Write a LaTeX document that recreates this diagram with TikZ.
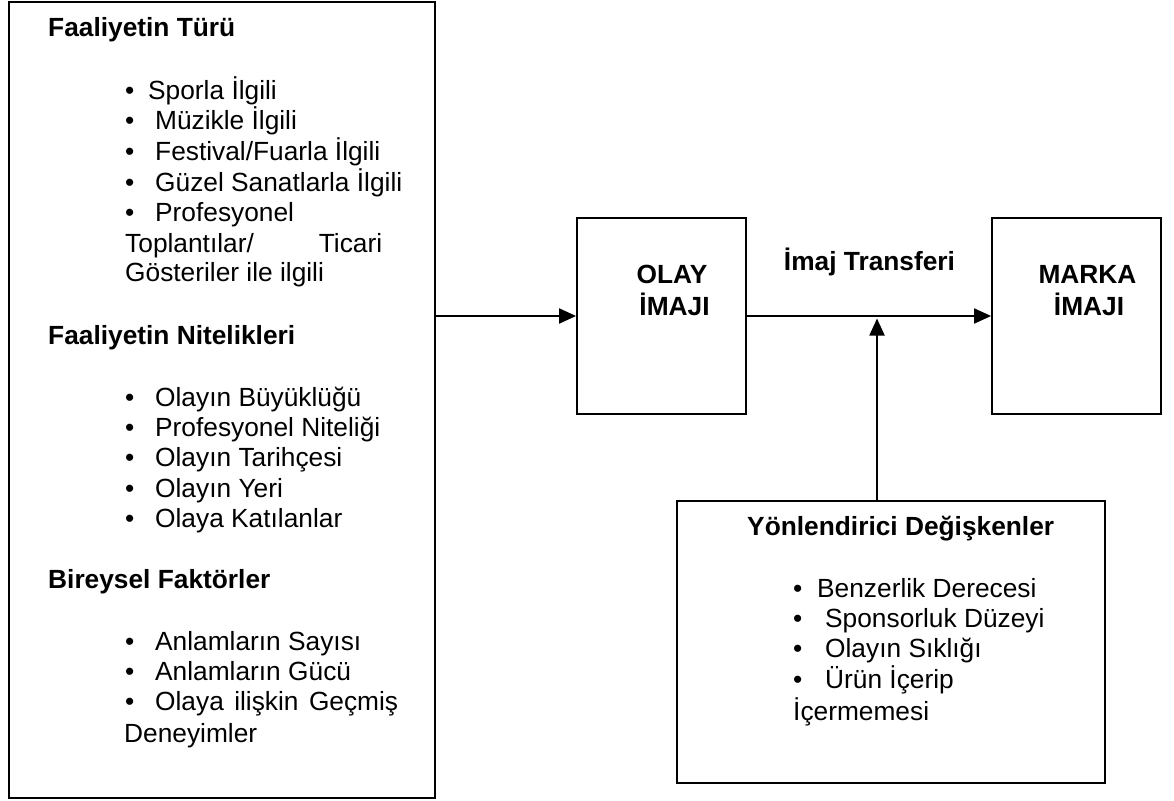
\documentclass[tikz,border=0pt]{standalone}
\usepackage{fontspec}
\setmainfont{Liberation Sans}
\usetikzlibrary{arrows.meta}
\begin{document}
\begin{tikzpicture}[x=1pt,y=-1pt,
  box/.style={draw, line width=1.8pt, inner sep=0pt},
  txt/.style={inner sep=0pt, anchor=base west, font=\fontsize{26.3}{30}\selectfont},
  btxt/.style={txt, font=\fontsize{26.3}{30}\selectfont\bfseries},
  ctxt/.style={btxt, anchor=base},
  arr/.style={line width=1.9pt, -{Triangle[length=17pt,width=15pt]}}]
\useasboundingbox (0,0) rectangle (1174,800);
% boxes
\node[box, minimum width=426pt, minimum height=796pt] (left) at (222,400) {};
\node[box, minimum width=169pt, minimum height=196pt] (olay) at (661.5,316) {};
\node[box, minimum width=169pt, minimum height=196pt] (marka) at (1076.5,316) {};
\node[box, minimum width=428pt, minimum height=282pt] (yon) at (891,642) {};
% left box text
\node[btxt] (h1) at (48,37) {Faaliyetin Türü};
\node[txt] (a1) at (125,99) {\makebox[23pt][l]{•}Sporla İlgili};
\node[txt] (a2) at (125,129) {\makebox[30pt][l]{•}Müzikle İlgili};
\node[txt] (a3) at (125,160) {\makebox[30pt][l]{•}Festival/Fuarla İlgili};
\node[txt] (a4) at (125,191) {\makebox[30pt][l]{•}Güzel Sanatlarla İlgili};
\node[txt] (a5) at (125,221) {\makebox[30pt][l]{•}Profesyonel};
\node[txt] (a6) at (125,252) {\makebox[257pt][l]{Toplantılar/\hfill Ticari}};
\node[txt] (a7) at (125,281) {Gösteriler ile ilgili};
\node[btxt] (h2) at (48,344) {Faaliyetin Nitelikleri};
\node[txt] (b1) at (125,406) {\makebox[30pt][l]{•}Olayın Büyüklüğü};
\node[txt] (b2) at (125,436) {\makebox[30pt][l]{•}Profesyonel Niteliği};
\node[txt] (b3) at (125,466) {\makebox[30pt][l]{•}Olayın Tarihçesi};
\node[txt] (b4) at (125,497) {\makebox[30pt][l]{•}Olayın Yeri};
\node[txt] (b5) at (125,527) {\makebox[30pt][l]{•}Olaya Katılanlar};
\node[btxt] (h3) at (48,588) {Bireysel Faktörler};
\node[txt] (c1) at (125,650) {\makebox[30pt][l]{•}Anlamların Sayısı};
\node[txt] (c2) at (125,680) {\makebox[30pt][l]{•}Anlamların Gücü};
\node[txt] (c3) at (125,710) {\makebox[273pt][l]{\makebox[30pt][l]{•}Olaya\hfill ilişkin\hfill Geçmiş}};
\node[txt] (c4) at (124,742) {Deneyimler};
% olay / marka text
\node[ctxt] (o1) at (672,283) {OLAY};
\node[ctxt] (o2) at (674.5,315) {İMAJI};
\node[ctxt] (m1) at (1087.5,283) {MARKA};
\node[ctxt] (m2) at (1089,315) {İMAJI};
\node[ctxt] (tr) at (869.5,270) {İmaj Transferi};
% yonlendirici text
\node[btxt] (y0) at (747,535) {Yönlendirici Değişkenler};
\node[txt] (y1) at (793,597) {\makebox[24pt][l]{•}Benzerlik Derecesi};
\node[txt] (y2) at (793,627) {\makebox[32pt][l]{•}Sponsorluk Düzeyi};
\node[txt] (y3) at (793,657) {\makebox[32pt][l]{•}Olayın Sıklığı};
\node[txt] (y4) at (793,688) {\makebox[32pt][l]{•}Ürün İçerip};
\node[txt] (y5) at (793,720) {İçermemesi};
% connectors
\coordinate (tp) at (877,317);
\draw[arr] (olay.west -| left.east) -- (olay.west);
\draw[arr] (olay.east) -- (marka.west);
\draw[arr, shorten >=1.5pt] (yon.north -| tp) -- (tp);
\end{tikzpicture}
\end{document}
